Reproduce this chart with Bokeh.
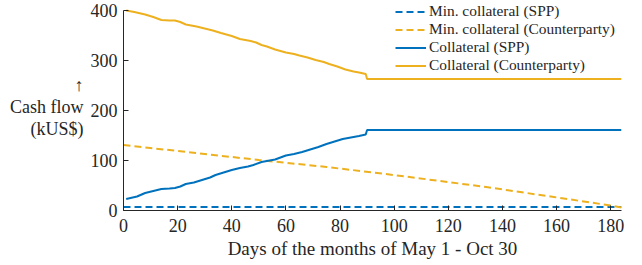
from bokeh.plotting import figure
from bokeh.models import Range1d, Legend, LegendItem, FixedTicker
from bokeh.embed import file_html
from bokeh.resources import INLINE

# Data
min_spp_x = [0, 184]
min_spp_y = [7, 7]

min_cp_x = [0, 25, 50, 75, 97, 134, 159, 180, 184]
min_cp_y = [131, 116, 101, 87, 73, 47, 27, 10, 6]

coll_spp_x = [1, 5, 8, 11, 14, 17, 19, 21, 23, 26, 29, 32, 34, 37, 40, 43, 46, 48,
              51, 53, 56, 58, 60, 63, 66, 69, 72, 75, 78, 81, 84, 87, 89.5, 90, 95, 184]
coll_spp_y = [23, 28, 35, 39, 43, 44, 45, 48, 53, 56, 61, 66, 71, 76, 81, 85, 88, 91,
              97, 99, 102, 106, 110, 113, 117, 122, 127, 133, 138, 143, 146, 149, 152, 161, 161, 161]

coll_cp_x = [1, 4, 8, 11, 14, 17, 19, 21, 23, 27, 30, 33, 36, 40, 43, 47, 49, 51, 53,
             56, 60, 63, 65, 68, 71, 74, 76, 79, 82, 85, 87, 89.5, 90, 95, 184]
coll_cp_y = [400, 397, 392, 387, 381, 380, 380, 377, 372, 368, 364, 360, 355, 349, 343, 339, 336, 331, 328,
             322, 316, 313, 310, 306, 301, 297, 293, 288, 282, 278, 276, 273, 263, 263, 263]

x_ticks = [0, 20, 40, 60, 80, 100, 120, 140, 160, 180]
y_ticks = [0, 100, 200, 300, 400]

BLUE = "#0072BD"
ORANGE = "#EDB120"
AX = "#262626"
FONT = "Liberation Serif"

p = figure(frame_width=498, frame_height=208, output_backend="svg", toolbar_location=None,
           x_range=Range1d(0, 184), y_range=Range1d(0, 416),
           min_border_left=123, min_border_right=13, min_border_top=2, min_border_bottom=50)
p.outline_line_color = None
p.grid.grid_line_color = None
p.background_fill_color = "white"

r1 = p.line(min_spp_x, min_spp_y, line_color=BLUE, line_width=2, line_dash="7 4")
r2 = p.line(min_cp_x, min_cp_y, line_color=ORANGE, line_width=2, line_dash="7 4")
r3 = p.line(coll_spp_x, coll_spp_y, line_color=BLUE, line_width=2)
r4 = p.line(coll_cp_x, coll_cp_y, line_color=ORANGE, line_width=2)

for ax in (p.xaxis[0], p.yaxis[0]):
    ax.axis_line_color = AX
    ax.major_tick_line_color = AX
    ax.minor_tick_line_color = None
    ax.major_tick_in = 5
    ax.major_tick_out = 0
    ax.major_label_text_font = FONT
    ax.major_label_text_font_size = "18px"
    ax.major_label_text_color = AX
    ax.axis_label_text_font = FONT
    ax.axis_label_text_font_style = "normal"
    ax.axis_label_text_color = AX

p.xaxis[0].ticker = FixedTicker(ticks=x_ticks)
p.yaxis[0].ticker = FixedTicker(ticks=y_ticks)
p.yaxis[0].bounds = (0, 400)
p.xaxis[0].major_label_standoff = 8
p.yaxis[0].major_label_standoff = 6
p.xaxis[0].axis_label = "Days of the months of May 1 - Oct 30"
p.xaxis[0].axis_label_text_font_size = "19px"
p.xaxis[0].axis_label_standoff = 3
p.yaxis[0].axis_label = "\u2191\nCash flow\n(kUS$)"
p.yaxis[0].axis_label_text_font_size = "18px"
p.yaxis[0].axis_label_orientation = "horizontal"
p.yaxis[0].axis_label_text_align = "right"
p.yaxis[0].axis_label_text_line_height = 1.1
p.yaxis[0].axis_label_standoff = 4

legend = Legend(items=[
    LegendItem(label="Min. collateral (SPP)", renderers=[r1]),
    LegendItem(label="Min. collateral (Counterparty)", renderers=[r2]),
    LegendItem(label="Collateral (SPP)", renderers=[r3]),
    LegendItem(label="Collateral (Counterparty)", renderers=[r4]),
], location=(272, 136))
legend.border_line_color = None
legend.background_fill_alpha = 0
legend.padding = 0
legend.margin = 0
legend.spacing = 0
legend.glyph_width = 31
legend.glyph_height = 17
legend.label_height = 17
legend.label_standoff = 3
legend.label_text_font = FONT
legend.label_text_font_size = "15.4px"
legend.label_text_color = AX
p.add_layout(legend, "center")

open("out.html", "w").write(file_html(p, INLINE))
